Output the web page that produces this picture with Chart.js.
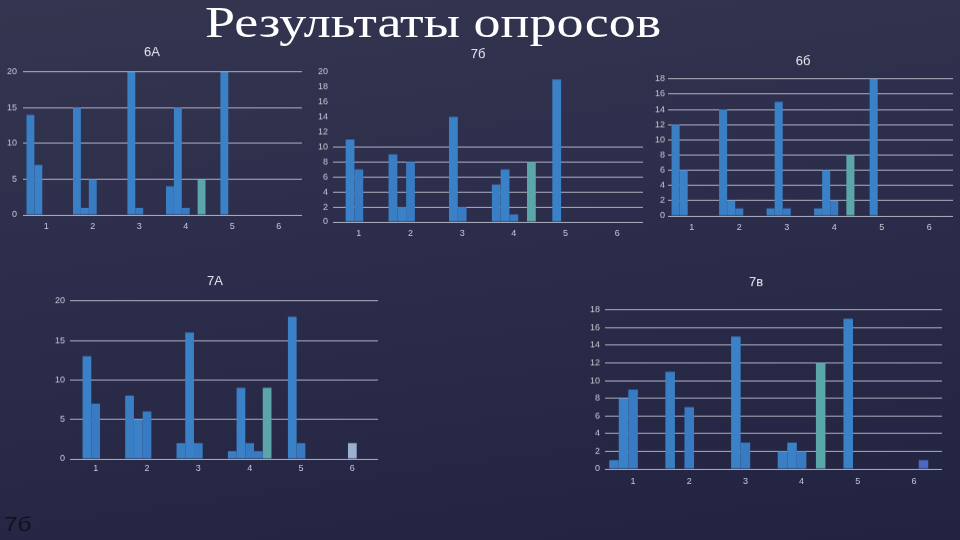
<!DOCTYPE html>
<html lang="ru">
<head>
<meta charset="utf-8">
<script src="https://cdn.jsdelivr.net/npm/chart.js@4.4.1/dist/chart.umd.min.js"></script>
<style>
  html, body { margin:0; padding:0; }
  body { width:960px; height:540px; overflow:hidden; position:relative;
         background: linear-gradient(172deg, #34354f 0%, #2c2d4b 45%, #222340 100%);
         font-family: "Liberation Sans", Arial, sans-serif; }
  #title { position:absolute; left:205px; top:-3px; font-family:"Liberation Serif", "DejaVu Serif", serif;
           font-size:45px; line-height:50px; color:#ffffff; white-space:nowrap;
           transform: scaleX(1.2); transform-origin: 0 0; }
  #corner { position:absolute; left:4px; top:512px; font-family:"Liberation Sans", sans-serif;
            font-size:21px; color:#111122; transform: scaleX(1.15); transform-origin: 0 0; }
  canvas { position:absolute; }
</style>
</head>
<body>
<div id="title">Результаты опросов</div>
<div id="corner">7б</div>
<canvas id="c6a"></canvas>
<canvas id="c7b"></canvas>
<canvas id="c6b"></canvas>
<canvas id="c7a"></canvas>
<canvas id="c7v"></canvas>
<script>
// ---- data ----
const categories = ['1', '2', '3', '4', '5', '6'];

const class6A_s0 = [14, 15, 0, 4, 0, 0];
const class6A_s1 = [7, 1, 20, 15, 20, 0];
const class6A_s2 = [0, 5, 1, 1, 0, 0];
const class6A_s3 = [0, 0, 0, 0, 0, 0];
const class6A_s4 = [0, 0, 0, 5, 0, 0];

const class7B_s0 = [0, 9, 0, 5, 0, 0];
const class7B_s1 = [11, 2, 14, 7, 19, 0];
const class7B_s2 = [7, 8, 2, 1, 0, 0];
const class7B_s3 = [0, 0, 0, 0, 0, 0];
const class7B_s4 = [0, 0, 0, 8, 0, 0];

const class6B_s0 = [12, 14, 1, 1, 0, 0];
const class6B_s1 = [6, 2, 15, 6, 18, 0];
const class6B_s2 = [0, 1, 1, 2, 0, 0];
const class6B_s3 = [0, 0, 0, 0, 0, 0];
const class6B_s4 = [0, 0, 0, 8, 0, 0];

const class7A_s0 = [0, 8, 2, 1, 0, 0];
const class7A_s1 = [13, 5, 16, 9, 18, 0];
const class7A_s2 = [7, 6, 2, 2, 2, 2];
const class7A_s3 = [0, 0, 0, 1, 0, 0];
const class7A_s4 = [0, 0, 0, 9, 0, 0];

const class7V_s0 = [1, 11, 0, 2, 0, 0];
const class7V_s1 = [8, 0, 15, 3, 17, 0];
const class7V_s2 = [9, 7, 3, 2, 0, 0];
const class7V_s3 = [0, 0, 0, 0, 0, 1];
const class7V_s4 = [0, 0, 0, 12, 0, 0];

const titles = ['6А', '7б', '6б', '7А', '7в'];
const yMax = [20, 20, 18, 20, 18];
const yStep = [5, 2, 2, 5, 2];

// ---- styling / layout ----
const seriesColors = ['#3a7ec4', '#3b81c7', '#397bc2', '#3c7ac2', '#5ba6a8'];
const gridColor = 'rgba(225,228,240,0.72)';
const tickColor = '#c6c8d4';

function makeChart(id, seriesList, idx, box, extra) {
  const canvasTop = box.titleY - 11.8;
  const padR = 4, xAxisH = 22;
  const w = box.plotR + padR - box.canvasL;
  const h = box.plotB + xAxisH - canvasTop;
  const cv = document.getElementById(id);
  cv.style.left = box.canvasL + 'px';
  cv.style.top = canvasTop + 'px';
  cv.style.width = w + 'px';
  cv.style.height = h + 'px';
  cv.width = w; cv.height = h;
  const yW = box.plotL - box.canvasL;
  const titlePadBottom = box.plotT - canvasTop - 4 - 15.6;
  const datasets = seriesList.map((d, i) => ({
    label: 'Вариант ' + (i + 1),
    data: d,
    backgroundColor: (ctx) => (extra && extra.series === i && ctx.dataIndex === 5) ? extra.color : seriesColors[i],
    borderWidth: 0,
    categoryPercentage: 0.85,
    barPercentage: 1.0
  }));
  return new Chart(cv, {
    type: 'bar',
    data: { labels: categories, datasets },
    options: {
      responsive: false,
      animation: false,
      devicePixelRatio: 1,
      layout: { padding: { left: 0, right: padR, top: 0, bottom: 0 } },
      plugins: {
        legend: { display: false },
        tooltip: { enabled: false },
        title: {
          display: true, text: titles[idx], color: '#e6e6ee',
          font: { family: 'Liberation Sans', size: 13, weight: 'normal', lineHeight: 1.2 },
          padding: { top: 4, bottom: titlePadBottom }
        }
      },
      scales: {
        x: {
          grid: { display: false, drawTicks: false },
          border: { display: false },
          ticks: { color: tickColor, padding: box.xPad, font: { family: 'Liberation Sans', size: 9 } },
          afterFit: (s) => { s.height = xAxisH; }
        },
        y: {
          min: 0, max: yMax[idx],
          grid: {
            drawTicks: false,
            lineWidth: 1,
            color: (ctx) => (box.gridLimit !== undefined && ctx.tick && ctx.tick.value > box.gridLimit) ? 'rgba(0,0,0,0)' : gridColor
          },
          border: { display: false },
          ticks: { stepSize: yStep[idx], color: tickColor, padding: box.yPad, font: { family: 'Liberation Sans', size: 9 } },
          afterFit: (s) => { s.width = yW; }
        }
      }
    }
  });
}

makeChart('c6a', [class6A_s0, class6A_s1, class6A_s2, class6A_s3, class6A_s4], 0,
  { canvasL: 2, plotL: 23, plotT: 72, plotR: 302, plotB: 215, titleY: 53, xPad: 6, yPad: 6 });
makeChart('c7b', [class7B_s0, class7B_s1, class7B_s2, class7B_s3, class7B_s4], 1,
  { canvasL: 313, plotL: 333, plotT: 72, plotR: 643, plotB: 222, titleY: 55, xPad: 6, yPad: 5, gridLimit: 10 });
makeChart('c6b', [class6B_s0, class6B_s1, class6B_s2, class6B_s3, class6B_s4], 2,
  { canvasL: 653, plotL: 668, plotT: 79, plotR: 953, plotB: 216, titleY: 62, xPad: 6, yPad: 3 });
makeChart('c7a', [class7A_s0, class7A_s1, class7A_s2, class7A_s3, class7A_s4], 3,
  { canvasL: 52, plotL: 70, plotT: 301, plotR: 378, plotB: 459, titleY: 282, xPad: 4, yPad: 5 },
  { series: 2, color: '#9dafd0' });
makeChart('c7v', [class7V_s0, class7V_s1, class7V_s2, class7V_s3, class7V_s4], 4,
  { canvasL: 570, plotL: 605, plotT: 310, plotR: 942, plotB: 469, titleY: 283, xPad: 7, yPad: 5 },
  { series: 3, color: '#4a68c2' });
</script>
</body>
</html>
